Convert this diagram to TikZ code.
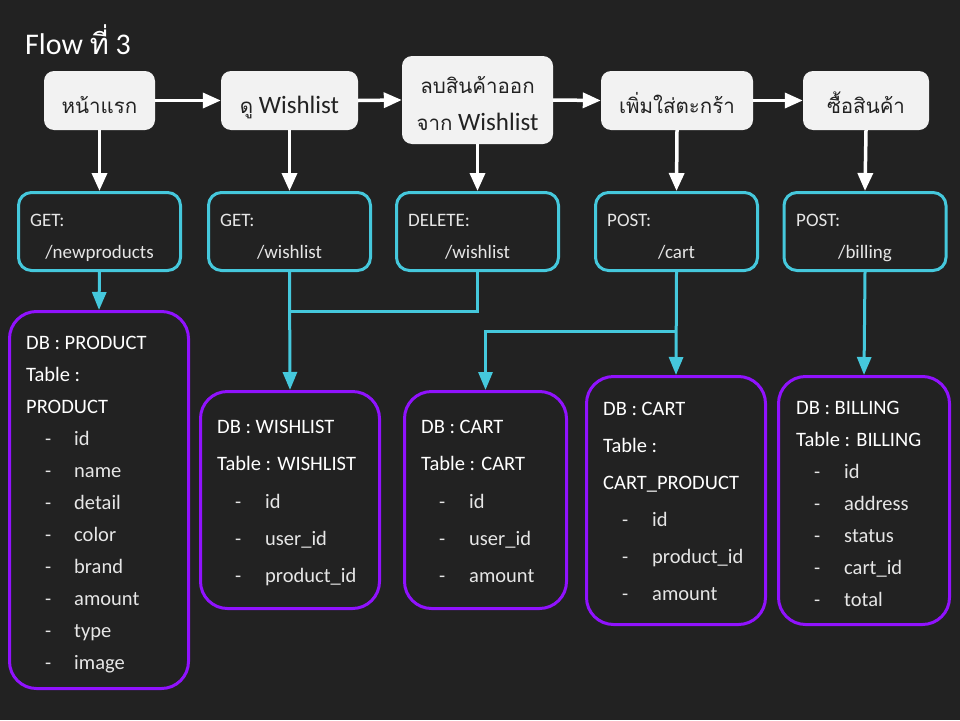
\documentclass[tikz,border=0pt]{standalone}
\usepackage{fontspec}
\setmainfont{Carlito}
\newfontfamily\thai[Script=Thai]{Loma}
\newcommand{\thtxt}[1]{{\thai\fontsize{20.5}{37}\selectfont #1}}
\usetikzlibrary{arrows.meta}
\definecolor{bg}{HTML}{222222}
\definecolor{boxfill}{HTML}{F2F2F2}
\definecolor{cyanc}{HTML}{45C8DC}
\definecolor{purp}{HTML}{9012FE}
\definecolor{txt}{HTML}{222222}
\definecolor{lite}{HTML}{E6E6E6}
\begin{document}
\begin{tikzpicture}[x=1pt,y=-1pt,
  stepbox/.style={fill=boxfill, rounded corners=10pt, text=txt, font=\fontsize{25}{37}\selectfont, inner sep=0pt, align=center, text height=28pt, text depth=3pt},
  steplbl/.style={text=txt, font=\fontsize{25}{37}\selectfont, inner sep=0pt, anchor=base},
  apibox/.style={draw=cyanc, line width=3pt, rounded corners=13pt, fill=bg, inner sep=0pt, minimum width=162pt, minimum height=78pt},
  dbbox/.style={draw=purp, line width=3pt, rounded corners=27pt, inner sep=0pt},
  warr/.style={white, line width=3.5pt, -{Triangle[length=18pt,width=15pt]}},
  carr/.style={cyanc, line width=3pt, -{Triangle[length=18pt,width=14pt]}},
  cline/.style={cyanc, line width=3pt},
  titletxt/.style={text=white, font=\fontsize{30}{34}\selectfont, inner sep=0pt, anchor=base west},
  apim/.style={text=lite, font=\fontsize{19}{22}\selectfont, inner sep=0pt, anchor=base west},
  apip/.style={text=lite, font=\fontsize{19}{22}\selectfont, inner sep=0pt, anchor=base},
  dbhead/.style={text=white, font=\fontsize{20.5}{24}\selectfont, inner sep=0pt, anchor=base west},
  dbdash/.style={text=lite, font=\fontsize{20}{24}\selectfont, inner sep=0pt, anchor=base west},
  dbitem/.style={text=lite, font=\fontsize{20.5}{24}\selectfont, inner sep=0pt, anchor=base west}
]
\fill[bg] (0,0) rectangle (960,720);
\useasboundingbox (0,0) rectangle (960,720);

\node[titletxt] (title) at (25,54) {Flow {\thai\fontsize{29}{34}\selectfont ที่} 3};

% step boxes
\node[stepbox, minimum width=111pt, minimum height=59pt] (s1) at (99.5,100.5) {\thtxt{หน้าแรก}};
\node[stepbox, minimum width=137pt, minimum height=59pt] (s2) at (289.5,100.5) {\thtxt{ดู} Wishlist};
\node[stepbox, minimum width=151pt, minimum height=88pt] (s3) at (477.5,100) {};
\node[steplbl] (s3a) at (477.5,93) {\thtxt{ลบสินค้าออก}};
\node[steplbl] (s3b) at (477.5,130) {\thtxt{จาก} Wishlist};
\node[stepbox, minimum width=152pt, minimum height=59pt] (s4) at (677,100.5) {\thtxt{เพิ่มใส่ตะกร้า}};
\node[stepbox, minimum width=126pt, minimum height=59pt] (s5) at (866,100.5) {\thtxt{ซื้อสินค้า}};

\draw[warr] (s1.east) -- (s2.west);
\draw[warr] (s2.east) -- (s3.west);
\draw[warr] (s3.east) -- (s4.west);
\draw[warr] (s4.east) -- (s5.west);

% api boxes
\node[apibox] (a1) at (99.5,231.5) {};
\node[apibox] (a2) at (289.5,231.5) {};
\node[apibox] (a3) at (477.5,231.5) {};
\node[apibox] (a4) at (676.5,231.5) {};
\node[apibox] (a5) at (865,231.5) {};

\draw[warr] (s1.south) -- (a1.north);
\draw[warr] (s2.south) -- (a2.north);
\draw[warr] (s3.south) -- (a3.north);
\draw[warr] (s4.south) -- (a4.north);
\draw[warr] (s5.south) -- (a5.north);

\node[apim] (a1m) at (30,226) {GET:};
\node[apip] (a1p) at (99.5,258) {/newproducts};
\node[apim] (a2m) at (220,226) {GET:};
\node[apip] (a2p) at (289.5,258) {/wishlist};
\node[apim] (a3m) at (408,226) {DELETE:};
\node[apip] (a3p) at (477.5,258) {/wishlist};
\node[apim] (a4m) at (607,226) {POST:};
\node[apip] (a4p) at (676.5,258) {/cart};
\node[apim] (a5m) at (796,226) {POST:};
\node[apip] (a5p) at (865,258) {/billing};

% db boxes
\node[dbbox, minimum width=179pt, minimum height=377pt] (d1) at (99,500) {};
\node[dbbox, minimum width=179pt, minimum height=217pt] (d2) at (290,500) {};
\node[dbbox, minimum width=162pt, minimum height=217pt] (d3) at (485.5,500) {};
\node[dbbox, minimum width=179pt, minimum height=248pt] (d4) at (676,500.5) {};
\node[dbbox, minimum width=171pt, minimum height=248pt] (d5) at (864,500.5) {};

% cyan connectors
\coordinate (j1) at (289.5,311);
\coordinate (j2) at (676.5,331);
\draw[carr] (a1.south) -- (d1.north);
\draw[carr] (a2.south) -- (d2.north);
\draw[cline] (a3.south) |- (j1);
\draw[carr] (a4.south) -- (d4.north);
\draw[carr] (j2) -| (d3.north);
\draw[carr] (a5.south) -- (d5.north);

% db texts
\foreach \t [count=\i from 0] in {DB : PRODUCT,Table :,PRODUCT}
  \node[dbhead] (d1h\i) at (26,349+32*\i) {\t};
\foreach \t [count=\i from 0] in {id,name,detail,color,brand,amount,type,image}{
  \node[dbdash] (d1x\i) at (45,445+32*\i) {-};
  \node[dbitem] (d1i\i) at (74,445+32*\i) {\t};
}

\foreach \t [count=\i from 0] in {DB : WISHLIST,Table : WISHLIST}
  \node[dbhead] (d2h\i) at (217,433+37.3*\i) {\t};
\foreach \t [count=\i from 0] in {id,user\_id,product\_id}{
  \node[dbdash] (d2x\i) at (235,508+37.3*\i) {-};
  \node[dbitem] (d2i\i) at (265,508+37.3*\i) {\t};
}

\foreach \t [count=\i from 0] in {DB : CART,Table : CART}
  \node[dbhead] (d3h\i) at (421,433+37.3*\i) {\t};
\foreach \t [count=\i from 0] in {id,user\_id,amount}{
  \node[dbdash] (d3x\i) at (439,508+37.3*\i) {-};
  \node[dbitem] (d3i\i) at (469,508+37.3*\i) {\t};
}

\foreach \t [count=\i from 0] in {DB : CART,Table :,CART\_PRODUCT}
  \node[dbhead] (d4h\i) at (603,415+37*\i) {\t};
\foreach \t [count=\i from 0] in {id,product\_id,amount}{
  \node[dbdash] (d4x\i) at (622,526+37*\i) {-};
  \node[dbitem] (d4i\i) at (652,526+37*\i) {\t};
}

\foreach \t [count=\i from 0] in {DB : BILLING,Table : BILLING}
  \node[dbhead] (d5h\i) at (796,414+32*\i) {\t};
\foreach \t [count=\i from 0] in {id,address,status,cart\_id,total}{
  \node[dbdash] (d5x\i) at (814,478+32*\i) {-};
  \node[dbitem] (d5i\i) at (844,478+32*\i) {\t};
}
\end{tikzpicture}
\end{document}
